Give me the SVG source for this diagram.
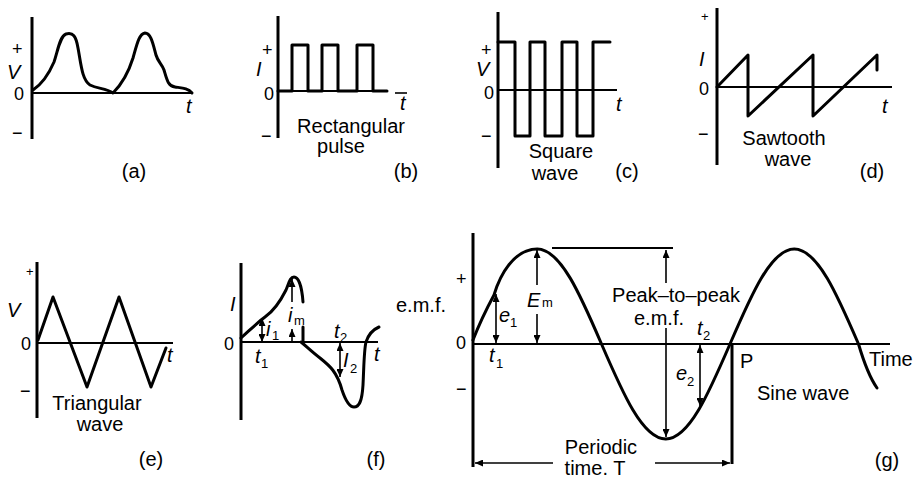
<svg xmlns="http://www.w3.org/2000/svg" width="918" height="480" viewBox="0 0 918 480">
<style>
text{font-family:"Liberation Sans",Arial,sans-serif;fill:#000}
.lb{font-size:20px}
.ax{font-size:18px}
.sm{font-size:13px}
.it{font-style:italic}
.mid{text-anchor:middle}
.wave{fill:none;stroke:#000;stroke-width:3;stroke-linejoin:round;stroke-linecap:round}
.axis{fill:none;stroke:#000;stroke-width:3}
.haxis{fill:none;stroke:#000;stroke-width:2.2}
.dim{fill:none;stroke:#000;stroke-width:1.6}
</style>
<defs>
<marker id="ah" markerUnits="userSpaceOnUse" markerWidth="8" markerHeight="7" refX="8" refY="3.5" orient="auto-start-reverse">
<path d="M0,0 L8,3.5 L0,7 z" fill="#000"/>
</marker>
</defs>
<rect width="918" height="480" fill="#fff"/>

<g id="panel-a">
<line class="axis" x1="32" y1="17" x2="32" y2="139"/>
<line class="haxis" x1="32" y1="93" x2="193" y2="93"/>
<path class="wave" d="M33,90 C42,84 48,76 54,62 C58,50 60,36 66,34 C73,32 76,36 78,48 C81,64 82,80 90,85 C98,89 106,88 113,93 C120,86 128,74 133,58 C137,44 139,34 145,33 C151,33 153,44 156,55 C158,62 162,64 164,70 C167,80 168,86 175,87 C182,88 188,88 192,93"/>
<text class="ax" x="12" y="55">+</text>
<text class="lb it" x="7" y="79">V</text>
<text class="ax" x="14" y="100">0</text>
<text class="ax" x="12" y="139">−</text>
<text class="lb it" x="186" y="113">t</text>
<text class="lb mid" x="134" y="178">(a)</text>
</g>

<g id="panel-b">
<line class="axis" x1="278" y1="16" x2="278" y2="138"/>
<line class="haxis" x1="278" y1="91" x2="387" y2="91"/>
<path class="wave" d="M278,91 H292 V45 H308 V91 H322 V45 H338 V91 H357 V45 H373 V91 H387"/>
<line class="dim" x1="395" y1="93" x2="407" y2="93"/>
<text class="ax" x="262" y="56">+</text>
<text class="lb it" x="256" y="76">I</text>
<text class="ax" x="264" y="100">0</text>
<text class="ax" x="261" y="142">−</text>
<text class="lb it" x="400" y="110">t</text>
<text class="lb mid" x="351" y="133">Rectangular</text>
<text class="lb mid" x="341" y="153">pulse</text>
<text class="lb mid" x="406" y="178">(b)</text>
</g>

<g id="panel-c">
<line class="axis" x1="498" y1="12" x2="498" y2="168"/>
<line class="haxis" x1="498" y1="90" x2="617" y2="90"/>
<path class="wave" d="M498,42 H515 V136 H530 V42 H545 V136 H562 V42 H577 V136 H593 V42 H610"/>
<text class="ax" x="481" y="56">+</text>
<text class="lb it" x="476" y="76">V</text>
<text class="ax" x="484" y="99">0</text>
<text class="ax" x="481" y="142">−</text>
<text class="lb it" x="616" y="111">t</text>
<text class="lb mid" x="561" y="158">Square</text>
<text class="lb mid" x="555" y="180">wave</text>
<text class="lb mid" x="627" y="178">(c)</text>
</g>

<g id="panel-d">
<line class="axis" x1="717" y1="8" x2="717" y2="165"/>
<line class="haxis" x1="717" y1="87" x2="892" y2="87"/>
<path class="wave" d="M717,87 L748,55 V116 L813,55 V116 L877,55 V70"/>
<text class="sm" x="701" y="21">+</text>
<text class="lb it" x="699" y="66">I</text>
<text class="ax" x="699" y="95">0</text>
<text class="ax" x="698" y="140">−</text>
<text class="lb it" x="882" y="113">t</text>
<text class="lb mid" x="784" y="145">Sawtooth</text>
<text class="lb mid" x="788" y="166">wave</text>
<text class="lb mid" x="872" y="178">(d)</text>
</g>

<g id="panel-e">
<line class="axis" x1="37" y1="262" x2="37" y2="418"/>
<line class="haxis" x1="37" y1="343" x2="173" y2="343"/>
<path class="wave" d="M38,340 L53,297 L87,387 L119,297 L151,387 L166,348"/>
<text class="sm" x="26" y="276">+</text>
<text class="lb it" x="7" y="317">V</text>
<text class="ax" x="21" y="350">0</text>
<text class="ax" x="20" y="397">−</text>
<text class="lb it" x="167" y="362">t</text>
<text class="lb mid" x="97" y="410">Triangular</text>
<text class="lb mid" x="100" y="431">wave</text>
<text class="lb mid" x="151" y="466">(e)</text>
</g>

<g id="panel-f">
<line class="axis" x1="241" y1="263" x2="241" y2="420"/>
<line class="haxis" x1="241" y1="342" x2="378" y2="342"/>
<path class="wave" d="M241,338 C250,330 258,322 265,317 C275,310 281,300 286,290 C289,283 290,277 294,277 C299,277 302,288 303,302"/>
<path class="wave" d="M301,342 C306,346 312,352 320,358 C330,366 337,372 342,390 C346,402 350,407 354,407 C359,407 362,402 363,385 C364,365 364,350 366,342 C368,336 372,330 379,327"/>
<line class="dim" x1="262" y1="342" x2="262" y2="318" marker-start="url(#ah)" marker-end="url(#ah)"/>
<line class="dim" x1="292" y1="302" x2="292" y2="279" marker-end="url(#ah)"/>
<line class="dim" x1="292" y1="342" x2="292" y2="329" marker-end="url(#ah)"/>
<line class="wave" x1="303" y1="327" x2="303" y2="342"/>
<line class="dim" x1="340" y1="343" x2="340" y2="377" marker-start="url(#ah)" marker-end="url(#ah)"/>
<text class="lb it" x="230" y="311">I</text>
<text class="ax" x="224" y="350">0</text>
<text class="lb it" x="255" y="363">t</text><text class="sm" x="261" y="368">1</text>
<text class="lb it" x="266" y="336">i</text><text class="sm" x="272" y="340">1</text>
<text class="lb it" x="288" y="322">i</text><text class="sm" x="294" y="325">m</text>
<text class="lb it" x="334" y="338">t</text><text class="sm" x="340" y="342">2</text>
<text class="lb it" x="343" y="367">I</text><text class="sm" x="350" y="373">2</text>
<text class="lb it" x="374" y="361">t</text>
<text class="lb mid" x="376" y="466">(f)</text>
</g>

<g id="panel-g">
<line class="axis" x1="473" y1="233" x2="473" y2="467"/>
<line class="haxis" x1="473" y1="344" x2="890" y2="344"/>
<path class="wave" d="M473,340 C480,322 487,308 494,295 C500,275 514,249 537.25,249 C560.5,249 580.5,295 601.5,344 C622.5,392.7 642.5,439 665.75,439 C689,439 709,392.7 730,344 C751,295.3 771,249 794.25,249 C817.5,249 837.5,295.3 858.5,344 C865,366 870,378 877,388"/>
<line class="haxis" x1="552" y1="248" x2="673" y2="248"/>
<line class="dim" x1="496" y1="343" x2="496" y2="294" marker-start="url(#ah)" marker-end="url(#ah)"/>
<line class="dim" x1="537" y1="285" x2="537" y2="250" marker-end="url(#ah)"/>
<line class="dim" x1="537" y1="314" x2="537" y2="343" marker-end="url(#ah)"/>
<line class="dim" x1="666" y1="283" x2="666" y2="250" marker-end="url(#ah)"/>
<line class="dim" x1="666" y1="328" x2="666" y2="437" marker-end="url(#ah)"/>
<line class="dim" x1="700" y1="345" x2="700" y2="406" marker-start="url(#ah)" marker-end="url(#ah)"/>
<line class="axis" x1="732" y1="344" x2="732" y2="464"/>
<line class="dim" x1="553" y1="463" x2="475" y2="463" marker-end="url(#ah)"/>
<line class="dim" x1="655" y1="463" x2="730" y2="463" marker-end="url(#ah)"/>
<text class="ax" x="456" y="285">+</text>
<text class="lb" x="396" y="312">e.m.f.</text>
<text class="ax" x="456" y="349">0</text>
<text class="ax" x="456" y="395">−</text>
<text class="lb it" x="499" y="322">e</text><text class="sm" x="510" y="327">1</text>
<text class="lb it" x="527" y="307">E</text><text class="sm" x="542" y="307">m</text>
<text class="lb it" x="489" y="362">t</text><text class="sm" x="496" y="368">1</text>
<text class="lb mid" x="676" y="302">Peak–to–peak</text>
<text class="lb mid" x="659" y="325">e.m.f.</text>
<text class="lb it" x="697" y="335">t</text><text class="sm" x="703" y="340">2</text>
<text class="lb it" x="676" y="380">e</text><text class="sm" x="687" y="386">2</text>
<text class="lb" x="740" y="368">P</text>
<text class="lb" x="869" y="366">Time</text>
<text class="lb" x="757" y="400">Sine wave</text>
<text class="lb mid" x="601" y="454">Periodic</text>
<text class="lb mid" x="595" y="475">time. T</text>
<text class="lb mid" x="887" y="467">(g)</text>
</g>
</svg>
